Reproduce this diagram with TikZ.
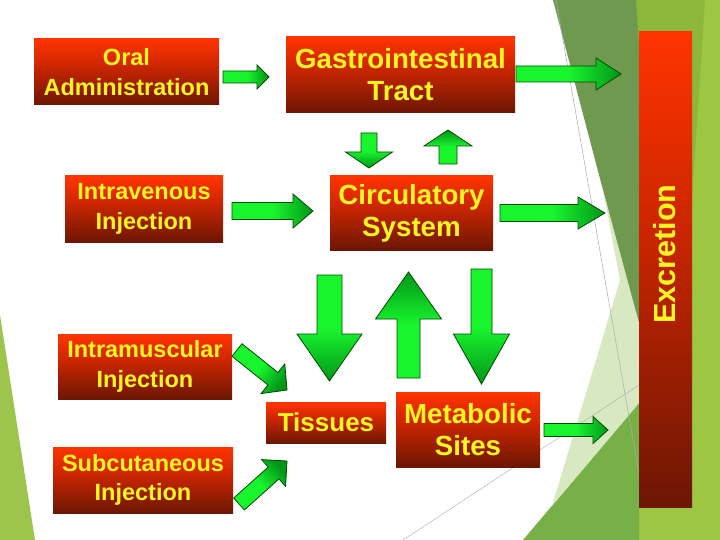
\documentclass[tikz,border=0pt]{standalone}
\usepackage{fontspec}
\setmainfont{Liberation Sans}
\usetikzlibrary{calc}
\definecolor{txtyellow}{RGB}{250,245,35}
\definecolor{bxdark}{RGB}{108,22,4}
\definecolor{bxmid}{RGB}{205,38,0}
\definecolor{bxtop}{RGB}{255,52,0}
\definecolor{arbright}{RGB}{25,245,45}
\definecolor{ardark}{RGB}{0,150,25}
\definecolor{aredge}{RGB}{0,75,0}
\definecolor{gdark}{RGB}{112,153,80}
\definecolor{gmed}{RGB}{140,183,58}
\definecolor{glight}{RGB}{157,198,66}
\definecolor{gbot}{RGB}{120,176,72}
\definecolor{gpale}{RGB}{216,232,192}
\definecolor{gleft}{RGB}{157,196,76}
\definecolor{thinline}{RGB}{170,172,180}
\pgfdeclareverticalshading{boxshade}{100bp}{color(0bp)=(bxdark); color(25bp)=(bxdark); color(55bp)=(bxmid); color(75bp)=(bxtop); color(100bp)=(bxtop)}
\pgfdeclareverticalshading{arrowshade}{100bp}{color(0bp)=(arbright); color(25bp)=(arbright); color(50bp)=(arbright); color(75bp)=(ardark); color(100bp)=(ardark)}
\tikzset{
  box/.style={inner sep=0pt, shade, shading=boxshade, text=txtyellow, align=center},
  smalltxt/.style={font=\fontsize{23.5}{29.5}\selectfont\bfseries},
  bigtxt/.style={font=\fontsize{27.7}{32}\selectfont\bfseries},
  greenarrowstyle/.style={draw=aredge, line width=0.8pt, shade, shading=arrowshade, line join=miter},
}
% #1 tail, #2 tip, #3 shaft half width, #4 head half width, #5 head length, #6 shading angle
\newcommand\greenarrow[6]{%
  \coordinate (hb) at ($(#2)!#5!(#1)$);
  \path[greenarrowstyle, shading angle=#6]
    ($(#1)!#3!90:(#2)$) -- ($(hb)!#3!90:(#2)$) -- ($(hb)!#4!90:(#2)$) -- (#2)
    -- ($(hb)!#4!-90:(#2)$) -- ($(hb)!#3!-90:(#2)$) -- ($(#1)!#3!-90:(#2)$) -- cycle;
}
\begin{document}
\begin{tikzpicture}[x=1pt,y=-1pt]
\useasboundingbox (0,0) rectangle (720,540);
% background
\fill[white] (0,0) rectangle (720,540);
\fill[gleft] (0,315) -- (35,540) -- (0,540) -- cycle;
\fill[glight] (637,0) rectangle (720,540);
\fill[gmed] (636,0) -- (705,0) -- (692,200) -- (640,200) -- cycle;
\fill[gdark] (553,0) -- (636,0) -- (640,60) -- (640,330) -- (638.5,325) -- cycle;
\fill[gbot] (523,540) -- (639,403) -- (639,540) -- cycle;
\fill[gpale] (603,190) -- (620,280) -- (596,360) -- (552,506) -- (639,403) -- (639,323) -- cycle;
\draw[thinline, line width=0.5pt] (556,0) -- (639,474);
\draw[thinline, line width=0.4pt] (403,540) -- (639,385);
% boxes
\node[box, smalltxt, minimum width=185pt, minimum height=66pt] (oral) at (126.5,72) {Oral\\Administration};
\node[box, bigtxt, minimum width=229pt, minimum height=76pt] (gi) at (400.5,75) {Gastrointestinal\\Tract};
\node[box, smalltxt, minimum width=158pt, minimum height=66pt] (iv) at (144,209) {Intravenous\\Injection};
\node[box, bigtxt, minimum width=163pt, minimum height=74pt] (circ) at (411.5,213) {Circulatory\\System};
\node[box, smalltxt, minimum width=174pt, minimum height=65pt] (im) at (145,366.5) {Intramuscular\\Injection};
\node[box, smalltxt, minimum width=180pt, minimum height=66pt] (sc) at (143,480) {Subcutaneous\\Injection};
\node[box, font=\fontsize{26}{30}\selectfont\bfseries, minimum width=120pt, minimum height=41pt] (tis) at (326,422.5) {Tissues};
\node[box, bigtxt, minimum width=144pt, minimum height=75pt] (met) at (468,429.5) {Metabolic\\Sites};
\node[box, minimum width=53pt, minimum height=475pt] (exc) at (665.5,269.5) {};
\node[text=txtyellow, font=\fontsize{30.5}{34}\selectfont\bfseries, rotate=90, inner sep=0pt] (exctext) at (665,254) {Excretion};
% arrows
\coordinate (a1t) at (223,77);   \coordinate (a1h) at (269,77);
\coordinate (a2t) at (516,74);   \coordinate (a2h) at (621,74);
\coordinate (a3t) at (232,211);  \coordinate (a3h) at (313,211);
\coordinate (a4t) at (500,213);  \coordinate (a4h) at (605,213);
\coordinate (a5t) at (369,133);  \coordinate (a5h) at (369,168);
\coordinate (a6t) at (448,164);  \coordinate (a6h) at (448,130);
\coordinate (a7t) at (329.5,275); \coordinate (a7h) at (329.5,381);
\coordinate (a8t) at (408.5,378); \coordinate (a8h) at (408.5,272);
\coordinate (a9t) at (481.5,269); \coordinate (a9h) at (481.5,384);
\coordinate (a10t) at (544,430); \coordinate (a10h) at (608,430);
\coordinate (a11t) at (237,350); \coordinate (a11h) at (287,390);
\coordinate (a12t) at (239,504); \coordinate (a12h) at (287,461);
\greenarrow{a1t}{a1h}{6pt}{12pt}{12pt}{-90}
\greenarrow{a2t}{a2h}{8pt}{16pt}{25pt}{-90}
\greenarrow{a3t}{a3h}{8.5pt}{17pt}{20pt}{-90}
\greenarrow{a4t}{a4h}{8.5pt}{16pt}{27pt}{-90}
\greenarrow{a5t}{a5h}{8pt}{23.5pt}{16pt}{-180}
\greenarrow{a6t}{a6h}{9pt}{24pt}{16pt}{0}
\greenarrow{a7t}{a7h}{12.5pt}{32.5pt}{47pt}{-180}
\greenarrow{a8t}{a8h}{11.5pt}{33pt}{47pt}{0}
\greenarrow{a9t}{a9h}{10.5pt}{28pt}{50pt}{-180}
\greenarrow{a10t}{a10h}{6.5pt}{13.5pt}{15pt}{-90}
\greenarrow{a11t}{a11h}{8pt}{19pt}{18pt}{-128.7}
\greenarrow{a12t}{a12h}{8pt}{18pt}{18pt}{-48.1}
\end{tikzpicture}
\end{document}
